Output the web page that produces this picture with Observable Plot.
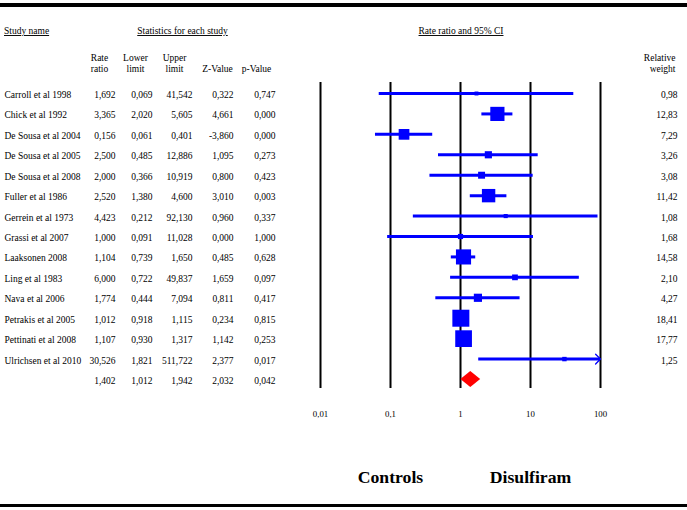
<!DOCTYPE html>
<html><head><meta charset="utf-8">
<script src="https://cdn.jsdelivr.net/npm/d3@7"></script>
<script src="https://cdn.jsdelivr.net/npm/@observablehq/plot@0.6"></script>
<style>
body{margin:0;background:#fff;}
#wrap{width:687px;}
.bar{background:#000;}
#chart svg{display:block;}
</style></head><body>
<div id="wrap">
<div style="height:3px"></div>
<div class="bar" style="height:4px"></div>
<div id="chart" style="height:497px"></div>
<div class="bar" style="height:3px"></div>
</div>
<script>
const studies = ["Carroll et al 1998","Chick et al 1992","De Sousa et al 2004","De Sousa et al 2005","De Sousa et al 2008","Fuller et al 1986","Gerrein et al 1973","Grassi et al 2007","Laaksonen 2008","Ling et al 1983","Nava et al 2006","Petrakis et al 2005","Pettinati et al 2008","Ulrichsen et al 2010"];
const rateRatio = [1.692,3.365,0.156,2.500,2.000,2.520,4.423,1.000,1.104,6.000,1.774,1.012,1.107,30.526];
const lowerLimit = [0.069,2.020,0.061,0.485,0.366,1.380,0.212,0.091,0.739,0.722,0.444,0.918,0.930,1.821];
const upperLimit = [41.542,5.605,0.401,12.886,10.919,4.600,92.130,11.028,1.650,49.837,7.094,1.115,1.317,511.722];
const zValue = [0.322,4.661,-3.860,1.095,0.800,3.010,0.960,0.000,0.485,1.659,0.811,0.234,1.142,2.377];
const pValue = [0.747,0.000,0.000,0.273,0.423,0.003,0.337,1.000,0.628,0.097,0.417,0.815,0.253,0.017];
const relWeight = [0.98,12.83,7.29,3.26,3.08,11.42,1.08,1.68,14.58,2.10,4.27,18.41,17.77,1.25];
const summaryValues = [1.402,1.012,1.942,2.032,0.042]; // rate ratio, lower, upper, z, p
const tickValues = [0.01,0.1,1,10,100];
const tickLabels = ["0,01","0,1","1","10","100"];
const sideLabels = ["Controls","Disulfiram"];
const sideAt = [0.1,10];
const titles = ["Study name","Statistics for each study","Rate ratio and 95% CI"];

const loc = d3.formatLocale({decimal:",",thousands:".",grouping:[3],currency:["",""],minus:"-"});
const f3 = loc.format(".3f"), f2 = loc.format(".2f");

const rows = studies.map((s,i)=>({name:s, rr:rateRatio[i], lo:lowerLimit[i], hi:upperLimit[i], z:zValue[i], p:pValue[i], w:relWeight[i], row:i}));
const summary = {name:"", rr:summaryValues[0], lo:summaryValues[1], hi:summaryValues[2], z:summaryValues[3], p:summaryValues[4], row:studies.length};
const allRows = [...rows, summary];
const xMin = tickValues[0], xMax = tickValues[tickValues.length-1];
const nRows = allRows.length - 1;
const dh = 0.39;
const diamond = [
  {y: summary.row - dh, x1: summary.rr, x2: summary.rr},
  {y: summary.row, x1: summary.lo, x2: summary.hi},
  {y: summary.row + dh, x1: summary.rr, x2: summary.rr}
];

const FS = 9.5;
const colText = (get, dx, anchor, data=allRows) => Plot.text(data, {y:"row", text:get, frameAnchor:"left", textAnchor:anchor, dx, dy:1.5, fontSize:FS});
const hdr = (t, dx, dy, anchor, extra={}) => Plot.text([t], {text:d=>d, frameAnchor:"top-left", lineAnchor:"middle", textAnchor:anchor, dx, dy, fontSize:FS, lineHeight:1.16, ...extra});

const chart = Plot.plot({
  width: 687, height: 497, margin: 0,
  x: {type:"log", domain:[xMin,xMax], range:[320,600], axis:null},
  y: {domain:[0,nRows], range:[86,372], axis:null},
  r: {type:"sqrt", domain:[0,20], range:[0,10]},
  style: {fontFamily:'"Liberation Serif","Times New Roman",serif', fontSize:"9.5px", background:"#fff", color:"#000"},
  marks: [
    Plot.ruleX(tickValues, {x:d=>d, y1:-0.54, y2:nRows+0.44, stroke:"#000", strokeWidth:2}),
    Plot.ruleY(rows, {y:"row", x1:"lo", x2:d=>Math.min(d.hi,xMax), stroke:"#0000ff", strokeWidth:3}),
    Plot.arrow(rows.filter(d=>d.hi>xMax), {x1:"rr", x2:()=>xMax, y1:"row", y2:"row", stroke:"#0000ff", strokeWidth:1.3, headLength:8, headAngle:90}),
    Plot.dot(rows, {x:"rr", y:"row", r:"w", symbol:"square", fill:"#0000ff", stroke:"none"}),
    Plot.areaX(diamond, {y:"y", x1:"x1", x2:"x2", fill:"#ff0000", curve:"linear"}),
    Plot.text(tickValues, {x:d=>d, text:(d,i)=>tickLabels[i], frameAnchor:"top", lineAnchor:"middle", dy:407, fontSize:8.8}),
    Plot.text(sideLabels, {x:(d,i)=>sideAt[i], text:d=>d, frameAnchor:"top", lineAnchor:"middle", dy:470, fontSize:17.7, fontWeight:"bold"}),
    colText(d=>d.name, 4, "start"),
    colText(d=>f3(d.rr), 115, "end"),
    colText(d=>f3(d.lo), 152, "end"),
    colText(d=>f3(d.hi), 192, "end"),
    colText(d=>f3(d.z), 233, "end"),
    colText(d=>f3(d.p), 275, "end"),
    colText(d=>f2(d.w), 677, "end", rows),
    hdr(titles[0], 3.5, 23, "start"),
    hdr(titles[1], 182, 23, "middle"),
    hdr(titles[2], 460.5, 23, "middle"),
    hdr("Rate\nratio", 99, 55.8, "middle"),
    hdr("Lower\nlimit", 135, 55.8, "middle"),
    hdr("Upper\nlimit", 174, 55.8, "middle"),
    hdr("Z-Value", 217, 61.3, "middle"),
    hdr("p-Value", 256, 61.3, "middle"),
    hdr("Relative\nweight", 675, 55.8, "end")
  ]
});
document.getElementById("chart").appendChild(chart);
d3.select(chart).selectAll("text").filter(function(){ return titles.includes(this.textContent); }).style("text-decoration","underline");
</script>
</body></html>
